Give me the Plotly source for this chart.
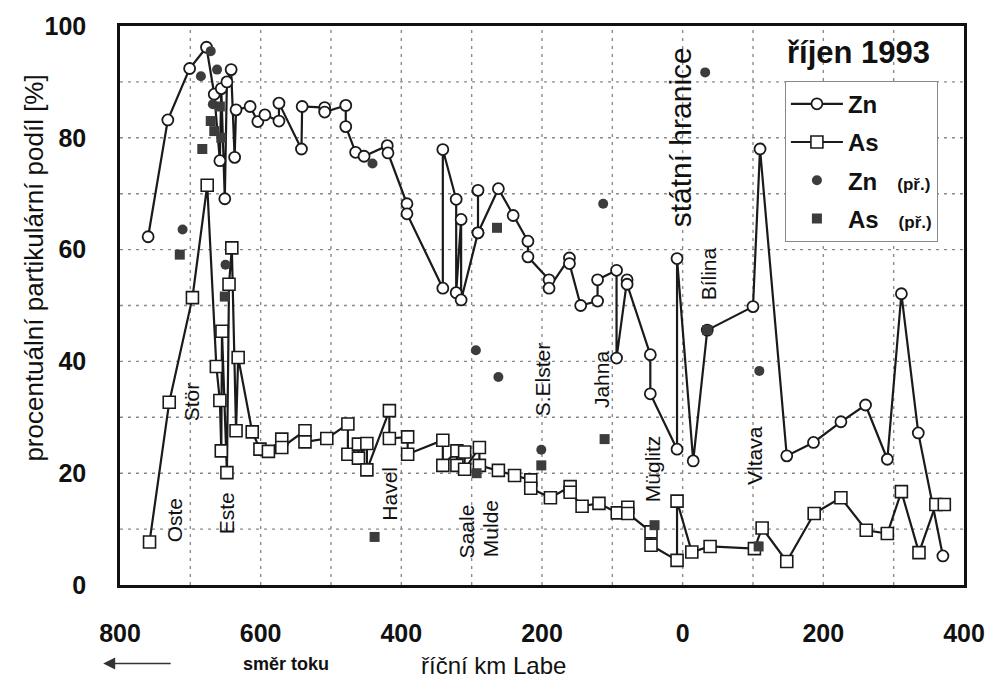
import plotly.graph_objects as go

# x position: German Elbe km shown as negative (800 ... 0 = state border), Czech km positive (0 ... 400)
zn_km = [-760, -732, -701, -677, -666, -658, -656, -651, -648, -642, -637, -635, -615, -604, -594,
         -574, -574, -542, -541, -509, -509, -479, -479, -465, -453, -420, -419, -392, -392,
         -341, -341, -322, -322, -315, -315, -291, -291, -291, -262, -241, -220, -220, -190, -190,
         -161, -161, -145, -121, -121, -94, -94, -79, -79, -46, -46, -8, -8, 15, 35, 100, 110,
         148, 186, 225, 260, 291, 311, 335, 370]
zn_val = [62.3, 83.2, 92.4, 96.2, 87.8, 75.9, 88.8, 69.1, 90.0, 92.2, 76.5, 85.0, 85.6, 82.9, 84.1,
          83.0, 86.2, 78.0, 85.6, 85.4, 84.6, 85.8, 82.0, 77.4, 76.7, 78.6, 77.3, 68.2, 66.4,
          53.1, 77.9, 69.0, 52.3, 65.4, 51.0, 63.0, 70.6, 63.0, 70.9, 66.1, 61.5, 58.7, 54.6, 53.1,
          58.5, 57.5, 50.0, 50.8, 54.6, 56.3, 40.6, 54.6, 53.8, 41.2, 34.2, 24.3, 58.4, 22.2, 45.6, 49.8, 78.0,
          23.1, 25.5, 29.2, 32.2, 22.5, 52.1, 27.2, 5.2]

as_km = [-758, -730, -697, -676, -663, -658, -656, -655, -648, -645, -641, -635, -632, -612, -601,
         -589, -570, -570, -537, -537, -506, -476, -476, -461, -461, -449, -449, -417, -417,
         -391, -391, -341, -341, -321, -321, -310, -310, -289, -289, -262, -239, -216, -216,
         -188, -160, -160, -143, -119, -93, -78, -78, -45, -45, -8, -8, 13, 39, 102, 113,
         148, 187, 225, 261, 291, 311, 336, 360, 372]
as_val = [7.7, 32.7, 51.4, 71.5, 39.1, 33.0, 24.0, 45.4, 20.1, 53.8, 60.3, 27.6, 40.7, 27.4, 24.3,
          23.9, 26.1, 24.6, 27.6, 25.6, 26.2, 28.8, 23.4, 25.2, 22.7, 25.3, 20.6, 31.2, 26.2,
          26.5, 23.4, 25.9, 21.4, 24.0, 21.4, 23.8, 20.7, 24.6, 21.4, 20.5, 19.6, 18.8, 17.3,
          15.6, 17.6, 16.6, 14.1, 14.6, 12.9, 13.9, 12.8, 9.5, 7.1, 4.4, 15.0, 5.9, 6.9, 6.5, 10.2,
          4.2, 12.8, 15.6, 9.8, 9.2, 16.7, 5.8, 14.4, 14.4]

zn_trib_km = [-711, -685, -671, -668, -662, -650, -441, -294, -262, -201, -113, 32, 109]
zn_trib_val = [63.6, 91.0, 95.5, 86.0, 92.2, 57.3, 75.4, 42.0, 37.2, 24.2, 68.2, 91.7, 38.3]

as_trib_km = [-715, -683, -671, -666, -658, -656, -651, -438, -293, -264, -201, -111, -40, 35, 108]
as_trib_val = [59.1, 78.0, 83.0, 81.2, 85.6, 80.0, 51.6, 8.6, 20.0, 63.9, 21.4, 26.1, 10.7, 45.6, 6.9]

x_tickvals = [-800, -600, -400, -200, 0, 200, 400]
x_ticktext = ["800", "600", "400", "200", "0", "200", "400"]
y_tickvals = [0, 20, 40, 60, 80, 100]
x_gridvals = [-700, -600, -500, -400, -300, -200, -100, 0, 100, 200, 300]
y_gridvals = [10, 20, 30, 40, 50, 60, 70, 80, 90]

river_names = ["Oste", "Stör", "Este", "Havel", "Saale", "Mulde", "S.Elster", "Jahna", "Müglitz", "Bílina", "Vltava"]
river_x = [-723, -699, -648, -417, -308, -273, -200, -115, -43, 37, 103]
river_y = [11.6, 32.7, 12.8, 16.4, 9.6, 10.1, 36.8, 36.8, 20.8, 55.7, 23.1]

FONT = "Liberation Sans, Arial, sans-serif"
LINE = "#1a1a1a"
FILL = "#3c3c3c"

fig = go.Figure()
fig.add_trace(go.Scatter(x=zn_km, y=zn_val, mode="lines+markers", name="<b>Zn</b>", legendgroup="a",
                         line=dict(color=LINE, width=2.2),
                         marker=dict(symbol="circle", size=11, color="white", line=dict(color=LINE, width=1.8))))
fig.add_trace(go.Scatter(x=as_km, y=as_val, mode="lines+markers", name="<b>As</b>", legendgroup="b",
                         line=dict(color=LINE, width=2.2),
                         marker=dict(symbol="square", size=12, color="white", line=dict(color=LINE, width=1.6))))
fig.add_trace(go.Scatter(x=zn_trib_km, y=zn_trib_val, mode="markers", legendgroup="c",
                         name="<b>Zn</b>   <span style='font-size:17px'><b>(př.)</b></span>",
                         marker=dict(symbol="circle", size=10, color=FILL, line=dict(width=0))))
fig.add_trace(go.Scatter(x=as_trib_km, y=as_trib_val, mode="markers", legendgroup="d",
                         name="<b>As</b>   <span style='font-size:17px'><b>(př.)</b></span>",
                         marker=dict(symbol="square", size=10, color=FILL, line=dict(width=0))))

# dotted grid
gline = dict(color="#8a8a8a", width=1.4, dash="3px,5px")
for v in x_gridvals:
    fig.add_shape(type="line", xref="x", yref="y", x0=v, x1=v, y0=0, y1=100, line=gline, layer="below")
for v in y_gridvals:
    fig.add_shape(type="line", xref="x", yref="y", x0=-800, x1=400, y0=v, y1=v, line=gline, layer="below")

C = dict(xanchor="center", yanchor="middle", showarrow=False)
annotations = []
for name, xx, yy in zip(river_names, river_x, river_y):
    annotations.append(dict(x=xx, y=yy, xref="x", yref="y", text=name, textangle=-90,
                            font=dict(family=FONT, size=21, color="#111"), **C))
annotations.append(dict(x=-3, y=80, xref="x", yref="y", text="státní hranice", textangle=-90,
                        font=dict(family=FONT, size=30, color="#111"), **C))
annotations.append(dict(x=(866 - 120) / 853, y=(585 - 50) / 562, xref="paper", yref="paper",
                        text="<b>říjen 1993</b>", font=dict(family=FONT, size=31, color="#111"), **C))
annotations.append(dict(x=(33 - 120) / 853, y=(585 - 266) / 562, xref="paper", yref="paper",
                        text="procentuální partikulární podíl [%]", textangle=-90,
                        font=dict(family=FONT, size=26, color="#111"), **C))
annotations.append(dict(x=(497 - 120) / 853, y=(585 - 666) / 562, xref="paper", yref="paper",
                        text="říční km Labe", font=dict(family=FONT, size=24, color="#111"), **C))
annotations.append(dict(x=(288 - 120) / 853, y=(585 - 664) / 562, xref="paper", yref="paper",
                        text="<b>směr toku</b>", font=dict(family=FONT, size=18, color="#111"), **C))
annotations.append(dict(x=(103 - 120) / 853, y=(585 - 664) / 562, ax=69, ay=0,
                        xref="paper", yref="paper", axref="pixel", ayref="pixel", text="", showarrow=True,
                        arrowhead=2, arrowsize=1.6, arrowwidth=1.5, arrowcolor="#333"))

fig.update_layout(
    width=997, height=692,
    margin=dict(l=120, r=24, t=23, b=107),
    paper_bgcolor="white", plot_bgcolor="white",
    font=dict(family=FONT, color="#111"),
    annotations=annotations,
    showlegend=True,
    legend=dict(x=(792 - 120) / 853, y=(585 - 78) / 562, xanchor="left", yanchor="top",
                bgcolor="white", bordercolor="#888", borderwidth=1,
                font=dict(family=FONT, size=24, color="#111"),
                tracegroupgap=4, traceorder="grouped", itemwidth=52),
    xaxis=dict(range=[-800, 400], tickvals=x_tickvals, ticktext=x_ticktext, ticks="", showgrid=False,
               tickfont=dict(family=FONT, size=25, color="#111", weight="bold"), ticklabelstandoff=24,
               showline=True, linecolor="#111", linewidth=2.5, mirror=True, zeroline=False),
    yaxis=dict(range=[0, 100], tickvals=y_tickvals, ticks="", showgrid=False,
               tickfont=dict(family=FONT, size=25, color="#111", weight="bold"), ticklabelstandoff=26,
               showline=True, linecolor="#111", linewidth=2.5, mirror=True, zeroline=False),
)
fig.write_html("out.html", config={"displayModeBar": False},
               post_script="document.body.style.margin='0';document.body.style.overflow='hidden';")
